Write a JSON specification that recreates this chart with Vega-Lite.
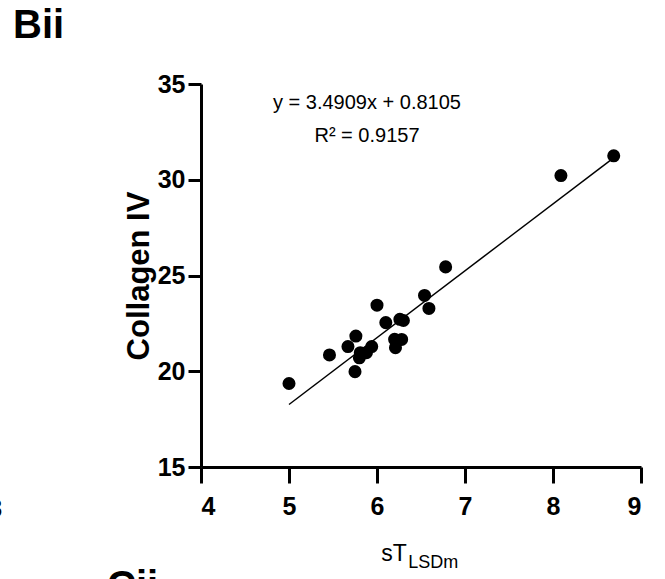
{
  "$schema": "https://vega.github.io/schema/vega-lite/v6.json",
  "width": 440,
  "height": 383,
  "autosize": {"type": "none"},
  "padding": {"left": 201, "top": 84, "right": 24, "bottom": 112},
  "background": "white",
  "config": {
    "view": {"stroke": null},
    "axis": {
      "grid": false,
      "domainColor": "black",
      "domainWidth": 3,
      "tickColor": "black",
      "tickWidth": 3,
      "labelFont": "Liberation Sans",
      "labelFontWeight": "bold",
      "labelFontSize": 25,
      "labelColor": "black",
      "titleColor": "black"
    }
  },
  "datasets": {
    "points": [
      {"st": 5.00, "col": 19.36},
      {"st": 5.46, "col": 20.85},
      {"st": 5.67, "col": 21.29},
      {"st": 5.76, "col": 21.84},
      {"st": 5.75, "col": 19.98},
      {"st": 5.80, "col": 20.70},
      {"st": 5.81, "col": 20.97},
      {"st": 5.88, "col": 20.97},
      {"st": 5.94, "col": 21.29},
      {"st": 6.00, "col": 23.45},
      {"st": 6.10, "col": 22.54},
      {"st": 6.20, "col": 21.67},
      {"st": 6.21, "col": 21.23},
      {"st": 6.26, "col": 22.71},
      {"st": 6.30, "col": 22.65},
      {"st": 6.28, "col": 21.66},
      {"st": 6.54, "col": 23.96},
      {"st": 6.59, "col": 23.28},
      {"st": 6.78, "col": 25.45},
      {"st": 8.09, "col": 30.22},
      {"st": 8.69, "col": 31.25}
    ],
    "fit": [
      {"st": 5.0, "col": 18.265},
      {"st": 8.7, "col": 31.181}
    ],
    "one": [{}]
  },
  "layer": [
    {
      "data": {"name": "fit"},
      "mark": {"type": "line", "color": "black", "strokeWidth": 1.5},
      "encoding": {
        "x": {"field": "st", "type": "quantitative", "scale": {"domain": [4, 9], "nice": false, "zero": false},
          "axis": {"values": [4, 5, 6, 7, 8, 9], "format": "d", "title": null, "tickSize": 16, "labelPadding": 11}},
        "y": {"field": "col", "type": "quantitative", "scale": {"domain": [15, 35], "nice": false, "zero": false},
          "axis": {"values": [15, 20, 25, 30, 35], "format": "d", "title": "Collagen IV", "titleFont": "Liberation Sans", "titleFontWeight": "bold", "titleFontSize": 31, "titlePadding": 2, "tickSize": 13, "labelPadding": 3}}
      }
    },
    {
      "data": {"name": "points"},
      "mark": {"type": "point", "filled": true, "shape": "circle", "color": "black", "opacity": 1, "size": 170},
      "encoding": {
        "x": {"field": "st", "type": "quantitative"},
        "y": {"field": "col", "type": "quantitative"}
      }
    },
    {
      "data": {"name": "one"},
      "mark": {"type": "text", "text": "y = 3.4909x + 0.8105", "font": "Liberation Sans", "fontSize": 20, "align": "center", "baseline": "alphabetic", "color": "black"},
      "encoding": {"x": {"datum": 5.886}, "y": {"datum": 33.70}}
    },
    {
      "data": {"name": "one"},
      "mark": {"type": "text", "text": "R² = 0.9157", "font": "Liberation Sans", "fontSize": 20, "align": "center", "baseline": "alphabetic", "color": "black"},
      "encoding": {"x": {"datum": 5.886}, "y": {"datum": 31.98}}
    },
    {
      "data": {"name": "one"},
      "mark": {"type": "text", "text": "sT", "font": "Liberation Sans", "fontSize": 23, "align": "right", "baseline": "alphabetic", "color": "black"},
      "encoding": {"x": {"datum": 6.34}, "y": {"datum": 10.1}}
    },
    {
      "data": {"name": "one"},
      "mark": {"type": "text", "text": "LSDm", "font": "Liberation Sans", "fontSize": 18, "align": "left", "baseline": "alphabetic", "color": "black"},
      "encoding": {"x": {"datum": 6.355}, "y": {"datum": 9.75}}
    },
    {
      "data": {"name": "one"},
      "mark": {"type": "text", "text": "Bii", "font": "Liberation Sans", "fontSize": 40, "fontWeight": "bold", "align": "left", "baseline": "alphabetic", "color": "black"},
      "encoding": {"x": {"datum": 1.864}, "y": {"datum": 37.4}}
    },
    {
      "data": {"name": "one"},
      "mark": {"type": "text", "text": "Cii", "font": "Liberation Sans", "fontSize": 40, "fontWeight": "bold", "align": "left", "baseline": "alphabetic", "color": "black"},
      "encoding": {"x": {"datum": 2.932}, "y": {"datum": 8.125}}
    },
    {
      "data": {"name": "one"},
      "mark": {"type": "text", "text": "3", "font": "Liberation Sans", "fontSize": 25, "fontWeight": "bold", "align": "right", "baseline": "alphabetic", "color": "black"},
      "encoding": {"x": {"datum": 1.739}, "y": {"datum": 12.4}}
    }
  ]
}
